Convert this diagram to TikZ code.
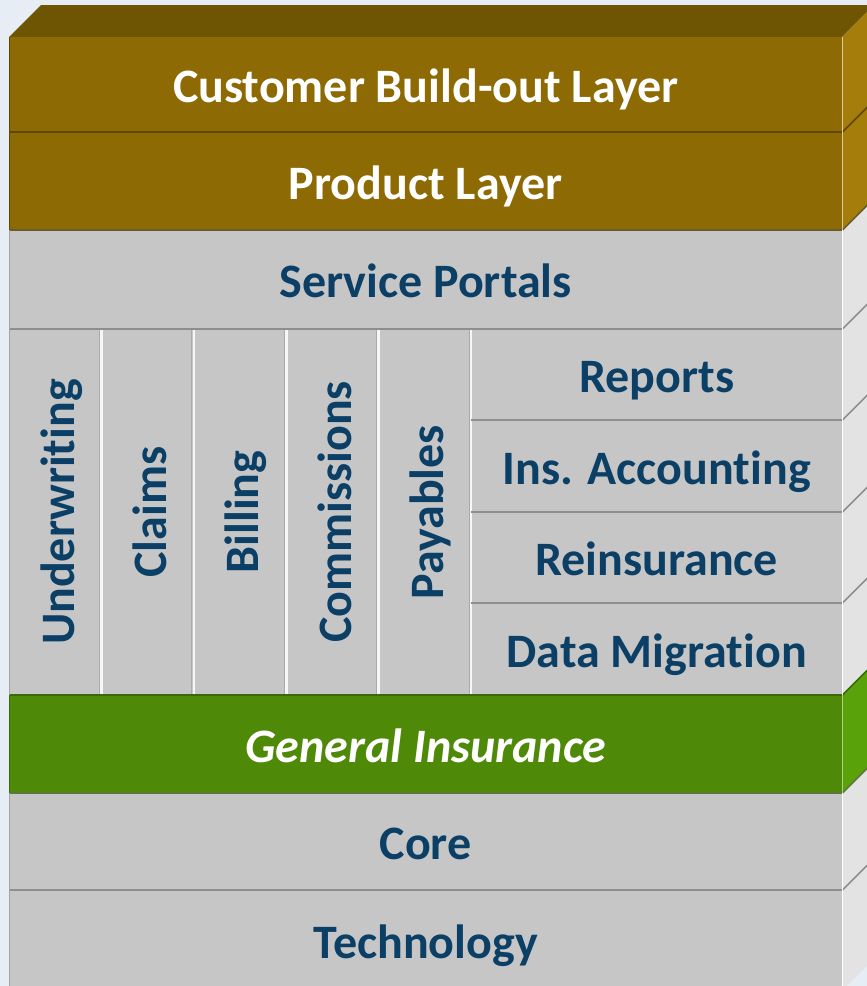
\documentclass[tikz,border=0pt]{standalone}
\usepackage{fontspec}
\setmainfont{Carlito}[Ligatures={NoCommon}]
\definecolor{bg}{HTML}{E7EDF4}
\definecolor{brfront}{HTML}{8D6A03}
\definecolor{brtop}{HTML}{6E5503}
\definecolor{brside}{HTML}{A47D0A}
\definecolor{brline}{HTML}{5E4700}
\definecolor{grfront}{HTML}{C6C6C6}
\definecolor{grside}{HTML}{E3E3E3}
\definecolor{grline}{HTML}{8E8E8E}
\definecolor{gnfront}{HTML}{4E8907}
\definecolor{gnside}{HTML}{5AA20A}
\definecolor{gnline}{HTML}{3A6A05}
\definecolor{txtblue}{HTML}{0B3F66}
\begin{document}
\begin{tikzpicture}[x=1pt,y=-1pt,
  face/.style={rectangle, inner sep=0pt, anchor=north west, text=txtblue,
    font=\fontsize{48}{52}\selectfont\bfseries, text height=36pt, text depth=0pt},
  brownface/.style={face, fill=brfront, text=white},
  greyface/.style={face, fill=grfront},
  greenface/.style={face, fill=gnfront, text=white},
  vlabel/.style={text=txtblue, inner sep=0pt, rotate=90,
    font=\fontsize{48}{52}\selectfont\bfseries, text height=32pt, text depth=0pt},
  sepline/.style={line width=1.6pt},
  colgap/.style={white!85!grfront, line width=2.6pt}]
\useasboundingbox (0,0) rectangle (867,986);
\clip (0,0) rectangle (867,986);
\fill[bg] (0,0) rectangle (867,986);

% top face
\fill[brtop] (9,37) -- (41,5) -- (874,5) -- (842,37) -- cycle;

% front faces
\node[brownface, minimum width=833pt, minimum height=95pt] (cust) at (9,37) {Customer Build-out Layer};
\node[brownface, minimum width=833pt, minimum height=98pt] (prod) at (9,132) {Product Layer};
\node[greyface, minimum width=833pt, minimum height=99pt] (serv) at (9,230) {Service Portals};
\node[greyface, minimum width=462pt, minimum height=366pt] (mods) at (9,329) {};
\node[greyface, minimum width=371pt, minimum height=91pt] (rep) at (471,329) {Reports};
\node[greyface, minimum width=371pt, minimum height=92pt] (acc) at (471,420) {Ins. Accounting};
\node[greyface, minimum width=371pt, minimum height=91pt] (rei) at (471,512) {Reinsurance};
\node[greyface, minimum width=371pt, minimum height=92pt] (mig) at (471,603) {Data Migration};
\node[greenface, minimum width=833pt, minimum height=98pt, font=\fontsize{48}{52}\selectfont\bfseries\itshape] (gen) at (9,695) {General Insurance};
\node[greyface, minimum width=833pt, minimum height=97pt] (core) at (9,793) {Core};
\node[greyface, minimum width=833pt, minimum height=100pt] (tech) at (9,890) {Technology};

% vertical module labels
\node[vlabel] (uw) at (58,512) {Underwriting};
\node[vlabel] (cl) at (150.4,512) {Claims};
\node[vlabel] (bi) at (242.8,512) {Billing};
\node[vlabel] (co) at (335.2,512) {Commissions};
\node[vlabel] (pa) at (427.6,512) {Payables};

% column gaps
\foreach \x in {101.4,193.8,286.2,378.6,471}{
  \draw[grline!50!grfront, line width=1pt] (\x-2,330) -- (\x-2,695);
  \draw[colgap] (\x,330) -- (\x,695);
}

% side faces
\foreach \a in {cust,prod}{
  \fill[brside] (\a.north east) -- ++(32,-32) -- ([shift={(32,-32)}]\a.south east) -- (\a.south east) -- cycle;
}
\foreach \a in {serv,rep,acc,rei,mig,core,tech}{
  \fill[grside] (\a.north east) -- ++(32,-32) -- ([shift={(32,-32)}]\a.south east) -- (\a.south east) -- cycle;
}
\fill[gnside] (gen.north east) -- ++(32,-32) -- ([shift={(32,-32)}]gen.south east) -- (gen.south east) -- cycle;

% separator lines at box tops
\draw[sepline, brline] (prod.north west) -- (prod.north east) -- ++(32,-32);
\draw[sepline, brline!70!grline] (serv.north west) -- (serv.north east) -- ++(32,-32);
\draw[sepline, grline] (mods.north west) -- (rep.north east) -- ++(32,-32);
\draw[sepline, grline] (acc.north west) -- (acc.north east) -- ++(32,-32);
\draw[sepline, grline] (rei.north west) -- (rei.north east) -- ++(32,-32);
\draw[sepline, grline] (mig.north west) -- (mig.north east) -- ++(32,-32);
\draw[sepline, gnline] (gen.north west) -- (gen.north east) -- ++(32,-32);
\draw[sepline, gnline!60!grline] (core.north west) -- (core.north east) -- ++(32,-32);
\draw[sepline, grline] (tech.north west) -- (tech.north east) -- ++(32,-32);

% left edges
\draw[brline, line width=1pt] (cust.north west) -- (prod.south west);
\draw[grline!80, line width=1pt] (serv.north west) -- (mods.south west);
\draw[gnline, line width=1pt] (gen.north west) -- (gen.south west);
\draw[grline!80, line width=1pt] (core.north west) -- (tech.south west);
% front-right vertical edges
\draw[white!60!brside, line width=0.6pt] (cust.north east) -- (prod.south east);
\draw[white, line width=0.6pt] (serv.north east) -- (mig.south east);
\draw[white!50!gnside, line width=0.6pt] (gen.north east) -- (gen.south east);
\draw[white, line width=0.6pt] (core.north east) -- (tech.south east);
\end{tikzpicture}
\end{document}
